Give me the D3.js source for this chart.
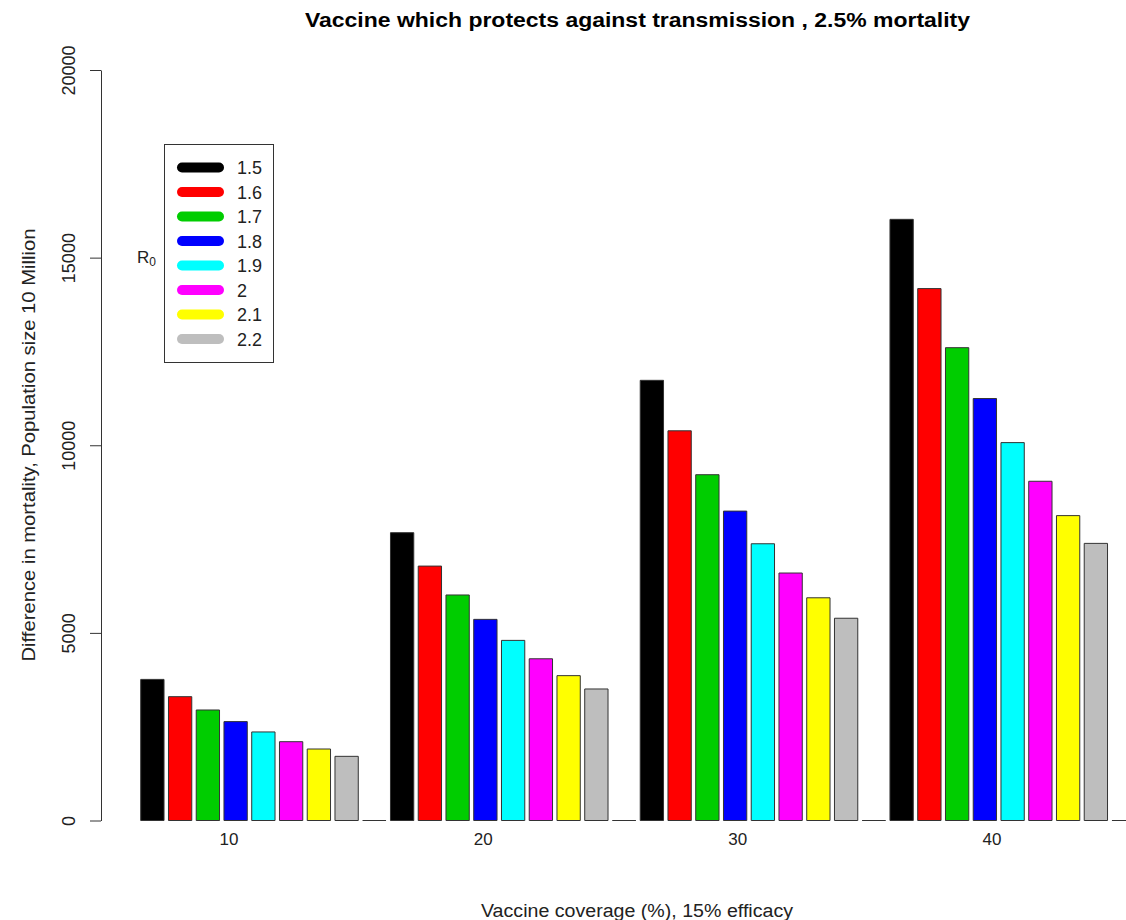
<!DOCTYPE html>
<html>
<head>
<meta charset="utf-8">
<script src="https://cdn.jsdelivr.net/npm/d3@7"></script>
<style>
  body { margin: 0; background: #fff; }
  text { font-family: "Liberation Sans", Arial, sans-serif; fill: #222; }
</style>
</head>
<body>
<div id="chart"></div>
<script>
const coverage = [10, 20, 30, 40];
const r0Labels = ["1.5", "1.6", "1.7", "1.8", "1.9", "2", "2.1", "2.2", ""];
const barColors = ["#000000", "#FF0000", "#00CD00", "#0000FF", "#00FFFF", "#FF00FF", "#FFFF00", "#BEBEBE", "#FFFFFF"];

// one array per coverage level, last slot is the empty (zero) row
const mort10 = [3760, 3300, 2945, 2635, 2360, 2100, 1905, 1710, 0];
const mort20 = [7670, 6780, 6010, 5360, 4800, 4310, 3860, 3505, 0];
const mort30 = [11730, 10385, 9215, 8245, 7375, 6595, 5935, 5390, 0];
const mort40 = [16020, 14175, 12600, 11245, 10070, 9040, 8125, 7385, 0];
const yTicks = [0, 5000, 10000, 15000, 20000];

const groups = [mort10, mort20, mort30, mort40];

const width = 1126, height = 920;
const svg = d3.select("#chart").append("svg")
  .attr("width", width)
  .attr("height", height);

const y = d3.scaleLinear().domain([0, 20000]).range([820.5, 70]);

const bars = [];
groups.forEach((vals, gi) => {
  vals.forEach((v, si) => {
    bars.push({ key: gi + "-" + si, group: gi, series: si, value: v });
  });
});

const x = d3.scaleBand()
  .domain(bars.map((d) => d.key))
  .range([138.5, 1137.5])
  .paddingInner(0.16)
  .paddingOuter(0.08);

const xLabel = d3.scalePoint().domain(coverage).range([229, 992]);

// bars drawn as paths so zero-height ones still show as a line
svg.append("g")
  .selectAll("path")
  .data(bars)
  .join("path")
  .attr("d", (d) => {
    const x0 = x(d.key), w = x.bandwidth();
    const y0 = y(0), y1 = y(d.value);
    return `M${x0},${y0}V${y1}H${x0 + w}V${y0}Z`;
  })
  .attr("fill", (d) => barColors[d.series])
  .attr("stroke", "#333")
  .attr("stroke-width", 1);

// y axis
const yAxis = svg.append("g")
  .attr("transform", "translate(101,0)")
  .call(d3.axisLeft(y).tickValues(yTicks).tickSize(11).tickSizeOuter(0).tickFormat(d3.format("d")));
yAxis.select(".domain").attr("stroke", "#333");
yAxis.selectAll(".tick line").attr("stroke", "#333");
yAxis.selectAll(".tick text")
  .attr("transform", "rotate(-90)")
  .attr("x", 0)
  .attr("y", -26)
  .attr("dy", 0)
  .attr("text-anchor", "middle")
  .attr("font-size", 18)
  .attr("fill", "#222")
  .style("font-family", "'Liberation Sans', Arial, sans-serif");

// x tick labels
svg.append("g")
  .selectAll("text")
  .data(coverage)
  .join("text")
  .attr("x", (d) => xLabel(d))
  .attr("y", 845)
  .attr("text-anchor", "middle")
  .attr("font-size", 17)
  .text((d) => d);

// titles
svg.append("text")
  .attr("x", 637.5)
  .attr("y", 27)
  .attr("text-anchor", "middle")
  .attr("font-size", 20)
  .attr("font-weight", "bold")
  .attr("textLength", 665)
  .attr("lengthAdjust", "spacingAndGlyphs")
  .style("fill", "#000")
  .text("Vaccine which protects against transmission , 2.5% mortality");

svg.append("text")
  .attr("x", 637)
  .attr("y", 917)
  .attr("text-anchor", "middle")
  .attr("font-size", 18)
  .attr("textLength", 312)
  .attr("lengthAdjust", "spacingAndGlyphs")
  .text("Vaccine coverage (%), 15% efficacy");

svg.append("text")
  .attr("transform", "translate(35,445) rotate(-90)")
  .attr("text-anchor", "middle")
  .attr("font-size", 18)
  .attr("textLength", 433)
  .attr("lengthAdjust", "spacingAndGlyphs")
  .text("Difference in mortality, Population size 10 Million");

// legend
const legend = svg.append("g");
legend.append("rect")
  .attr("x", 164.5).attr("y", 144.5)
  .attr("width", 109).attr("height", 218)
  .attr("fill", "#fff")
  .attr("stroke", "#333")
  .attr("stroke-width", 1);

const legendY = d3.scalePoint().domain(r0Labels.slice(0, 8)).range([167.5, 339]);
const items = legend.selectAll("g.item")
  .data(r0Labels.slice(0, 8))
  .join("g")
  .attr("class", "item")
  .attr("transform", (d) => `translate(0,${legendY(d)})`);
items.append("line")
  .attr("x1", 182).attr("x2", 219)
  .attr("stroke", (d, i) => barColors[i])
  .attr("stroke-width", 10)
  .attr("stroke-linecap", "round");
items.append("text")
  .attr("x", 237)
  .attr("y", 6.5)
  .attr("font-size", 18)
  .text((d) => d);

const r0Text = svg.append("text")
  .attr("x", 137)
  .attr("y", 263)
  .attr("font-size", 17);
r0Text.append("tspan").text("R");
r0Text.append("tspan").attr("font-size", 12).attr("dy", 3).text("0");
</script>
</body>
</html>
